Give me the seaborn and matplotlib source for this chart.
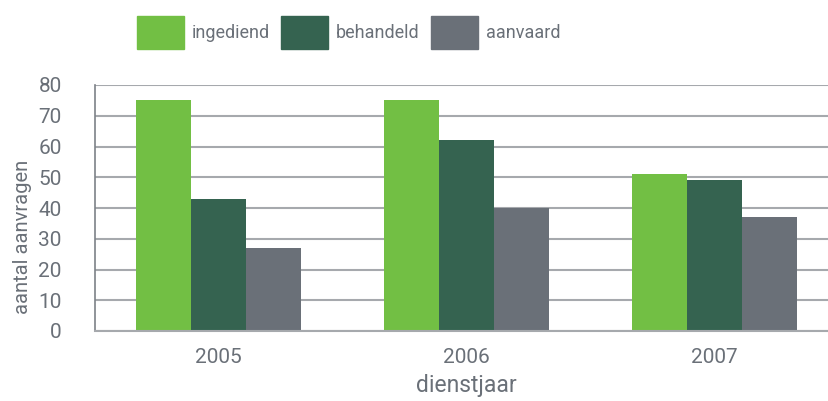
import pandas as pd
import matplotlib
matplotlib.use("Agg")
import matplotlib.pyplot as plt
import seaborn as sns

# data
jaren = ["2005", "2006", "2007"]
ingediend = [75, 75, 51]
behandeld = [43, 62, 49]
aanvaard = [27, 40, 37]
reeksen = ["ingediend", "behandeld", "aanvaard"]
kleuren = ["#72bf44", "#356350", "#6a7078"]

rows = []
for naam, waarden in zip(reeksen, [ingediend, behandeld, aanvaard]):
    for jaar, w in zip(jaren, waarden):
        rows.append({"dienstjaar": jaar, "reeks": naam, "aantal": w})
df = pd.DataFrame(rows)

sns.set_style("white")
plt.rcParams["font.family"] = ["Roboto", "DejaVu Sans"]
tekst = "#6a7078"
lijn = "#a6a9ad"

fig = plt.figure(figsize=(8.29, 4.01), dpi=100)
ax = fig.add_axes([95 / 829, 1 - 331 / 401, 743 / 829, 246 / 401])

sns.barplot(data=df, x="dienstjaar", y="aantal", hue="reeks", hue_order=reeksen,
            palette=kleuren, width=0.665, gap=0, saturation=1, linewidth=0,
            ax=ax, legend=False)

ax.set_ylim(0, 80)
ax.set_xlim(-0.5, 2.5)
ax.set_yticks(range(0, 81, 10))
ax.yaxis.grid(True, color=lijn, linewidth=1.5)
ax.set_axisbelow(True)
for s in ["top", "right"]:
    ax.spines[s].set_visible(False)
ax.spines["left"].set_color("#7d8288")
ax.spines["left"].set_linewidth(1.2)
ax.spines["bottom"].set_color(lijn)
ax.spines["bottom"].set_linewidth(1.5)

# ticks op groepsgrenzen
ax.set_xticks([-0.5, 0.5, 1.5, 2.5], minor=False)
ax.set_xticklabels([])
ax.set_xticks([0, 1, 2], minor=True)
ax.set_xticklabels(jaren, minor=True)
ax.tick_params(axis="x", which="major", direction="out", length=6, color="#7d8288", width=1.2)
ax.tick_params(axis="x", which="minor", length=0, pad=12, labelsize=15, labelcolor=tekst)
ax.tick_params(axis="y", direction="out", length=7, color="#7d8288", width=1.2,
               pad=17, labelsize=15, labelcolor=tekst)

ax.set_xlabel("dienstjaar", fontsize=16.5, color=tekst, labelpad=5)
ax.set_ylabel("aantal aanvragen", fontsize=14.5, color=tekst)
ax.yaxis.set_label_coords(-0.085, 0.382)

handles = [plt.Rectangle((0, 0), 1, 1, color=c) for c in kleuren]
fig.legend(handles, reeksen, loc="upper left", bbox_to_anchor=(137 / 829, 1 - 16 / 401),
           ncol=3, frameon=False, fontsize=13, labelcolor=tekst, borderpad=0, borderaxespad=0,
           handlelength=2.6, handleheight=2.4, handletextpad=0.45, columnspacing=0.6)

fig.savefig("out.png", dpi=100)
